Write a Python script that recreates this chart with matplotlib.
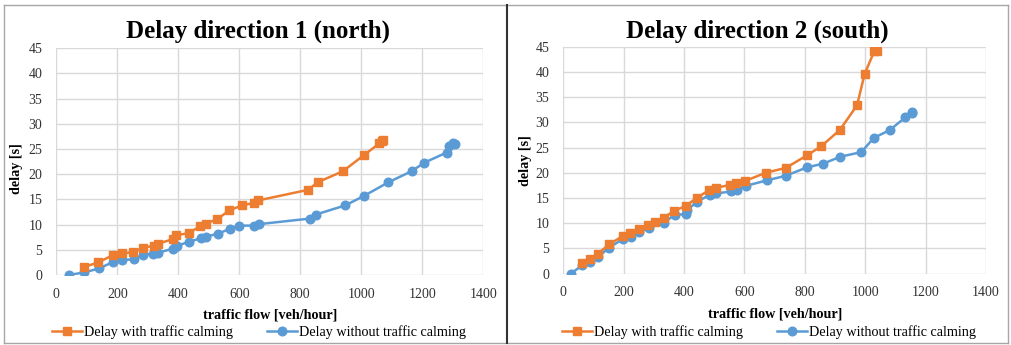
import matplotlib
matplotlib.use("Agg")
import matplotlib.pyplot as plt
from matplotlib.lines import Line2D

# Direction 1 (north)
north_flow_calm = [91, 138, 187, 214, 252, 283, 320, 334, 381, 392, 435, 471, 491,
                   528, 567, 608, 648, 662, 826, 857, 940, 1009, 1059, 1067, 1072]
north_delay_calm = [1.6, 2.5, 4.0, 4.3, 4.5, 5.4, 5.8, 6.2, 7.1, 7.9, 8.3, 9.7, 10.2,
                    11.1, 12.8, 13.8, 14.3, 14.8, 16.9, 18.4, 20.6, 23.8, 26.1, 26.6, 26.8]
north_flow_free = [40, 91, 140, 187, 214, 256, 283, 318, 332, 381, 389, 395, 436, 474,
                   490, 531, 570, 600, 648, 666, 832, 851, 947, 1009, 1089, 1165, 1207,
                   1280, 1287, 1302, 1307]
north_delay_free = [0.0, 0.5, 1.3, 2.6, 3.0, 3.1, 4.0, 4.2, 4.4, 5.2, 5.6, 5.8, 6.6, 7.3,
                    7.6, 8.2, 9.2, 9.8, 9.8, 10.1, 11.2, 12.0, 13.8, 15.7, 18.4, 20.6, 22.3,
                    24.3, 25.6, 26.1, 26.0]

# Direction 2 (south)
south_flow_calm = [63, 88, 116, 151, 198, 220, 251, 281, 305, 333, 365, 408, 443, 482,
                   505, 551, 573, 603, 670, 738, 808, 855, 916, 973, 998, 1030, 1039]
south_delay_calm = [2.2, 3.0, 4.0, 5.8, 7.5, 8.0, 8.8, 9.6, 10.3, 11.1, 12.4, 13.5, 15.1,
                    16.5, 17.0, 17.6, 18.0, 18.4, 20.0, 21.0, 23.5, 25.3, 28.5, 33.4, 39.6,
                    44.1, 44.1]
south_flow_free = [24, 63, 88, 116, 150, 198, 224, 250, 283, 334, 369, 408, 410, 444, 487,
                   505, 556, 575, 604, 674, 736, 808, 860, 918, 987, 1028, 1082, 1133,
                   1154, 1156]
south_delay_free = [0.0, 1.65, 2.4, 3.3, 5.1, 6.9, 7.3, 8.2, 9.05, 10.1, 11.7, 11.8, 12.6,
                    14.3, 15.7, 15.9, 16.3, 16.6, 17.4, 18.5, 19.4, 21.1, 21.8, 23.2, 24.1,
                    26.9, 28.5, 31.0, 31.8, 32.1]

titles = ["Delay direction 1 (north)", "Delay direction 2 (south)"]
x_ticks = [0, 200, 400, 600, 800, 1000, 1200, 1400]
y_ticks = [0, 5, 10, 15, 20, 25, 30, 35, 40, 45]
label_calm = "Delay with traffic calming"
label_free = "Delay without traffic calming"

ORANGE = "#ED7D31"
BLUE = "#5B9BD5"
GRID = "#D9D9D9"
SERIF = ["Liberation Serif", "DejaVu Serif"]

W, H = 1011, 345
fig = plt.figure(figsize=(W / 100, H / 100), dpi=100)
fig.patch.set_facecolor("white")


def px_axes(x0, y_top, x1, y_bottom):
    return fig.add_axes([x0 / W, 1 - y_bottom / H, (x1 - x0) / W, (y_bottom - y_top) / H])


panels = [
    (px_axes(56.3, 48.2, 483.3, 275.0), north_flow_calm, north_delay_calm,
     north_flow_free, north_delay_free, 258, (-0.078, 0.47), 52),
    (px_axes(563.3, 46.7, 986.0, 273.7), south_flow_calm, south_delay_calm,
     south_flow_free, south_delay_free, 757, (-0.074, 0.50), 562),
]

for i, (ax, xc, yc, xf, yf, tx, ylab_pos, leg_x) in enumerate(panels):
    ax.plot(xf, yf, color=BLUE, lw=1.8, marker="o", ms=6.2, zorder=3)
    ax.plot(xc, yc, color=ORANGE, lw=1.8, marker="s", ms=5.2, zorder=4)
    ax.set_xlim(0, 1400)
    ax.set_ylim(0, 45)
    ax.set_xticks(x_ticks)
    ax.set_yticks(y_ticks)
    ax.grid(True, color=GRID, lw=1.0)
    ax.set_axisbelow(True)
    for s in ax.spines.values():
        s.set_visible(False)
    ax.tick_params(length=0, labelsize=10, pad=9, colors="#333333")
    ax.tick_params(axis="y", pad=10)
    for lab in ax.get_xticklabels() + ax.get_yticklabels():
        lab.set_family(SERIF)
    ax.set_xlabel("traffic flow [veh/hour]", family=SERIF, fontweight="bold",
                  fontsize=10.2, labelpad=6)
    ax.set_ylabel("delay [s]", family=SERIF, fontweight="bold", fontsize=10.2)
    ax.yaxis.set_label_coords(*ylab_pos)
    fig.text(tx / W, 1 - 31 / H, titles[i], family=SERIF, fontweight="bold",
             fontsize=18, ha="center", va="center")

    handles = [
        Line2D([], [], color=ORANGE, lw=1.8, marker="s", ms=5.2),
        Line2D([], [], color=BLUE, lw=1.8, marker="o", ms=6.2),
    ]
    fig.legend(handles, [label_calm, label_free], loc="center left",
               bbox_to_anchor=(leg_x / W, 1 - 332 / H), ncol=2, frameon=False,
               prop={"family": SERIF, "size": 10.2}, handlelength=2.1,
               handletextpad=0.15, columnspacing=2.4, borderaxespad=0,
               borderpad=0)

# Outer frame and centre divider
frame = dict(transform=fig.transFigure, color="#A6A6A6", lw=1.0)
fig.add_artist(Line2D([3.5 / W, 1008 / W], [1 - 5 / H, 1 - 5 / H], **frame))
fig.add_artist(Line2D([3.5 / W, 1008 / W], [1 - 343 / H, 1 - 343 / H], **frame))
fig.add_artist(Line2D([3.5 / W, 3.5 / W], [1 - 5 / H, 1 - 343 / H], **frame))
fig.add_artist(Line2D([1008 / W, 1008 / W], [1 - 5 / H, 1 - 343 / H], **frame))
fig.add_artist(Line2D([507 / W, 507 / W], [1 - 5 / H, 1 - 343 / H],
                      transform=fig.transFigure, color="#333333", lw=1.5))

fig.savefig("out.png", dpi=100, facecolor="white")
